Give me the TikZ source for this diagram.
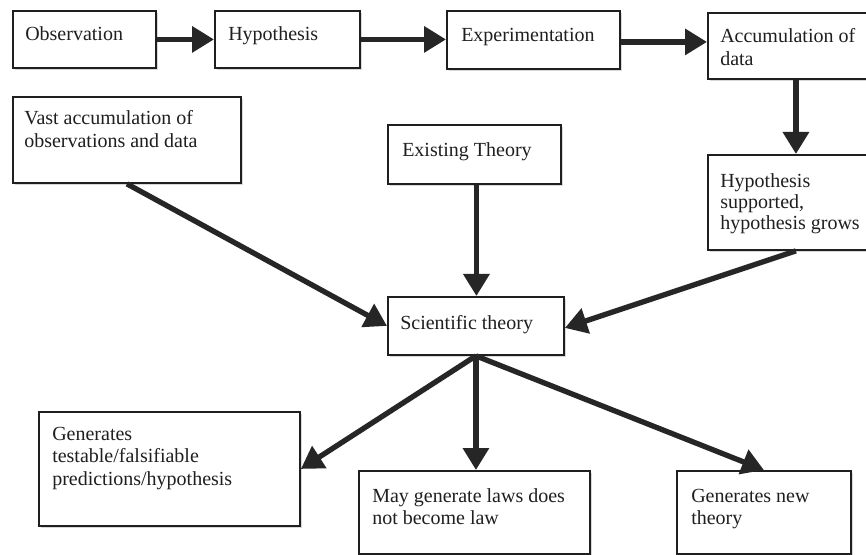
\documentclass[tikz,border=0pt]{standalone}
\usepackage{fontspec}
\setmainfont{Liberation Serif}
\usetikzlibrary{arrows.meta,shadows,calc}
\begin{document}
\begin{tikzpicture}[x=0.75pt,y=-0.75pt,
  box/.style={draw=black!88, line width=1.4pt, fill=white, anchor=north west, inner sep=0pt,
    drop shadow={shadow xshift=1.2pt, shadow yshift=-1.2pt, opacity=0.25, fill=black!60}},
  lbl/.style={anchor=base west, inner sep=0pt, text=black!88,
    font=\fontsize{15}{17}\selectfont},
  arr/.style={draw=black!85, line width=4pt, -{Triangle[length=16.5pt,width=19pt]}}]
\fill[white] (0,0) rectangle (866,555);
\useasboundingbox (0,0) rectangle (866,555);

\node[box, minimum width=107.25pt, minimum height=42.75pt,
  label={[lbl, xshift=9.75pt, yshift=-23pt]north west:{\parbox[t]{200pt}{\raggedright Observation}}}]
  (obs) at (12,10) {};
\node[box, minimum width=108.75pt, minimum height=42.75pt,
  label={[lbl, xshift=10.5pt, yshift=-23.25pt]north west:{\parbox[t]{200pt}{\raggedright Hypothesis}}}]
  (hyp) at (214,10) {};
\node[box, minimum width=129.75pt, minimum height=43.5pt,
  label={[lbl, xshift=11.25pt, yshift=-24pt]north west:{\parbox[t]{200pt}{\raggedright Experimentation}}}]
  (exp) at (446,10) {};
\node[box, minimum width=132pt, minimum height=49.5pt,
  label={[lbl, xshift=9.75pt, yshift=-23.25pt]north west:{\parbox[t]{200pt}{\raggedright Accumulation of\\data}}}]
  (acc) at (707,12) {};
\node[box, minimum width=171pt, minimum height=64.5pt,
  label={[lbl, xshift=9pt, yshift=-21.75pt]north west:{\parbox[t]{200pt}{\raggedright Vast accumulation of\\observations and data}}}]
  (vast) at (12,96) {};
\node[box, minimum width=129.75pt, minimum height=44.25pt,
  label={[lbl, xshift=11.25pt, yshift=-24.75pt]north west:{\parbox[t]{200pt}{\raggedright Existing Theory}}}]
  (ext) at (387,124) {};
\node[box, minimum width=132pt, minimum height=71.25pt,
  label={[lbl, xshift=9.75pt, yshift=-25.5pt]north west:{\parbox[t]{200pt}{\raggedright\baselineskip=15.75pt Hypothesis\\supported,\\hypothesis grows}}}]
  (hsup) at (707,154) {};
\node[box, minimum width=132pt, minimum height=43.5pt,
  label={[lbl, xshift=9.75pt, yshift=-25.5pt]north west:{\parbox[t]{200pt}{\raggedright Scientific theory}}}]
  (sci) at (387,296) {};
\node[box, minimum width=195.75pt, minimum height=85.5pt,
  label={[lbl, xshift=10.5pt, yshift=-21.75pt]north west:{\parbox[t]{200pt}{\raggedright Generates\\testable/falsifiable\\predictions/hypothesis}}}]
  (gen) at (38,411) {};
\node[box, minimum width=173.25pt, minimum height=62.25pt,
  label={[lbl, xshift=10.5pt, yshift=-24pt]north west:{\parbox[t]{200pt}{\raggedright May generate laws does\\not become law}}}]
  (may) at (358,470) {};
\node[box, minimum width=130.5pt, minimum height=62.25pt,
  label={[lbl, xshift=11.25pt, yshift=-24pt]north west:{\parbox[t]{200pt}{\raggedright Generates new\\theory}}}]
  (new) at (676,470) {};

\draw[arr] (obs.east) -- (obs.east -| hyp.west);
\draw[arr] (hyp.east) -- (hyp.east -| exp.west);
\draw[arr] ($(exp.east)+(0,2)$) -- ($(exp.east -| acc.west)+(0,2)$);
\draw[arr] (acc.south) -- (hsup.north);
\draw[arr] (vast.south) -- (sci.west);
\draw[arr] ($(ext.south)+(2,0)$) -- ($(ext.south |- sci.north)+(2,0)$);
\draw[arr] (hsup.south) -- ($(sci.east)+(0,2)$);
\draw[arr] (sci.south) -- (gen.east);
\draw[arr] (sci.south) -- (sci.south |- may.north);
\draw[arr] (sci.south) -- (new.north);
\end{tikzpicture}
\end{document}
